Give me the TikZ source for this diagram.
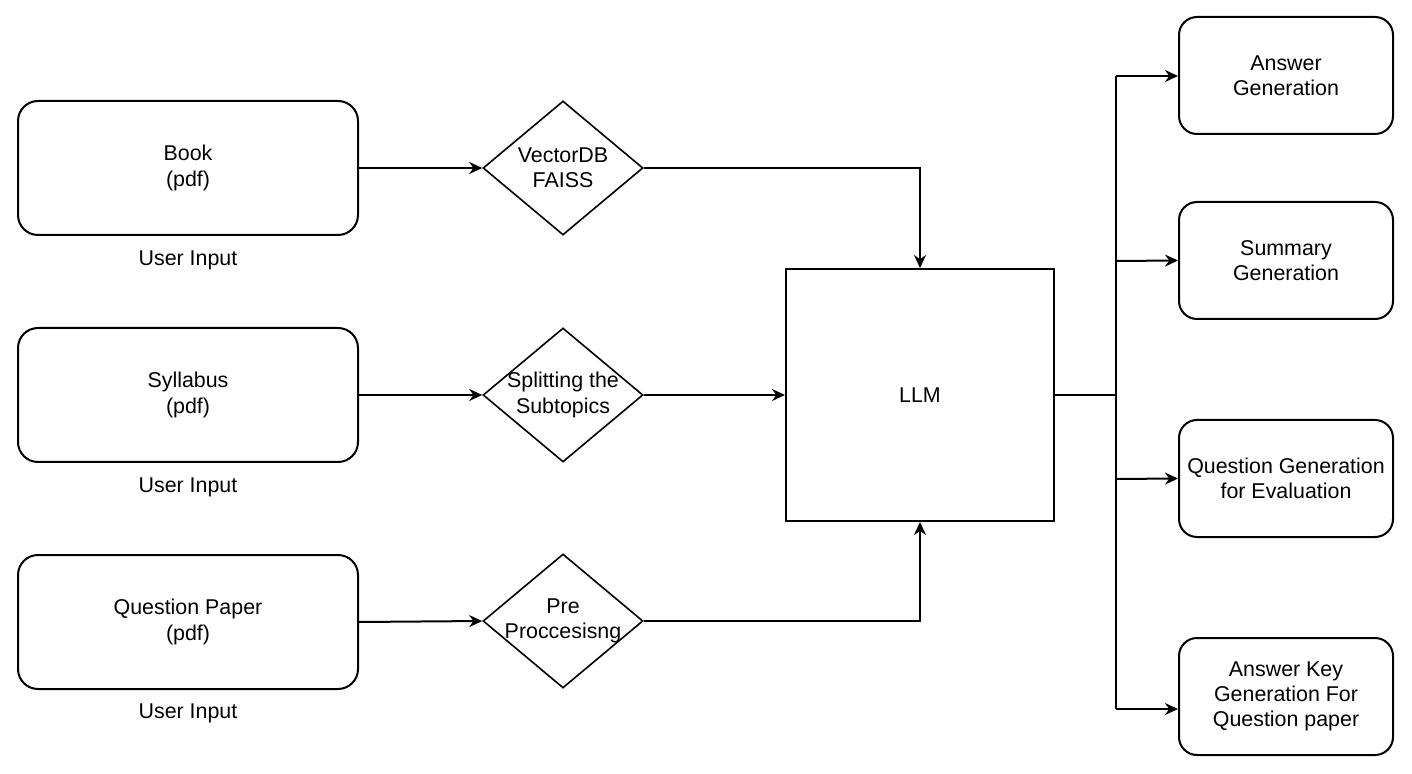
\documentclass[tikz,border=0pt]{standalone}
\usepackage{fontspec}
\setmainfont{Liberation Sans}
\usetikzlibrary{shapes.geometric,arrows.meta}
\begin{document}
\begin{tikzpicture}[x=0.5pt,y=-0.5pt,
  every node/.style={font=\fontsize{10.7pt}{12.6pt}\selectfont, align=center, inner sep=0pt},
  inbox/.style={draw, line width=1pt, rounded corners=10pt, minimum width=170pt, minimum height=67pt},
  outbox/.style={draw, line width=1pt, rounded corners=9pt, minimum width=107pt, minimum height=58.5pt},
  dia/.style={draw, line width=0.8pt, diamond, minimum width=80pt, minimum height=67pt},
  llmbox/.style={draw, line width=1pt, minimum width=134pt, minimum height=126pt},
  conn/.style={line width=1pt, -{Stealth[length=6.5pt,width=6pt]}},
  plain/.style={line width=1pt}]
\useasboundingbox (0,0) rectangle (1412,774);
% inputs
\node[inbox] (book) at (188,168) {Book\\(pdf)};
\node[inbox] (syl) at (188,395) {Syllabus\\(pdf)};
\node[inbox] (qp) at (188,622) {Question Paper\\(pdf)};
\node (ui1) at (188,260) {User Input};
\node (ui2) at (188,487) {User Input};
\node (ui3) at (188,713) {User Input};
% diamonds (fixed size, label on top)
\node[dia] (d1) at (563,168) {};
\node[dia] (d2) at (563,395) {};
\node[dia] (d3) at (563,621) {};
\node (t1) at (d1.center) {VectorDB\\FAISS};
\node (t2) at (d2.center) {Splitting the\\Subtopics};
\node (t3) at (d3.center) {Pre\\Proccesisng};
% LLM
\node[llmbox] (llm) at (920,395) {LLM};
% outputs
\node[outbox] (o1) at (1286,75.5) {Answer\\Generation};
\node[outbox] (o2) at (1286,260.5) {Summary\\Generation};
\node[outbox] (o3) at (1286,478.5) {Question Generation\\for Evaluation};
\node[outbox] (o4) at (1286,696.5) {Answer Key\\Generation For\\Question paper};
\coordinate (jn) at (1116,395);
\coordinate (top) at (1116,76);
\coordinate (bot) at (1116,709);
% connectors
\draw[conn] (book.east) -- (d1.west);
\draw[conn] (syl.east) -- (d2.west);
\draw[conn] (qp.east) -- (d3.west);
\draw[conn] (d1.east) -| (llm.north);
\draw[conn] (d2.east) -- (llm.west);
\draw[conn] (d3.east) -| (llm.south);
\draw[plain] (llm.east) -- (jn);
\draw[plain] (top) -- (bot);
\draw[conn] (top) -- (top -| o1.west);
\draw[conn] (1116,261) -- (o2.west);
\draw[conn] (1116,479) -- (o3.west);
\draw[conn] (bot) -- (bot -| o4.west);
\end{tikzpicture}
\end{document}
